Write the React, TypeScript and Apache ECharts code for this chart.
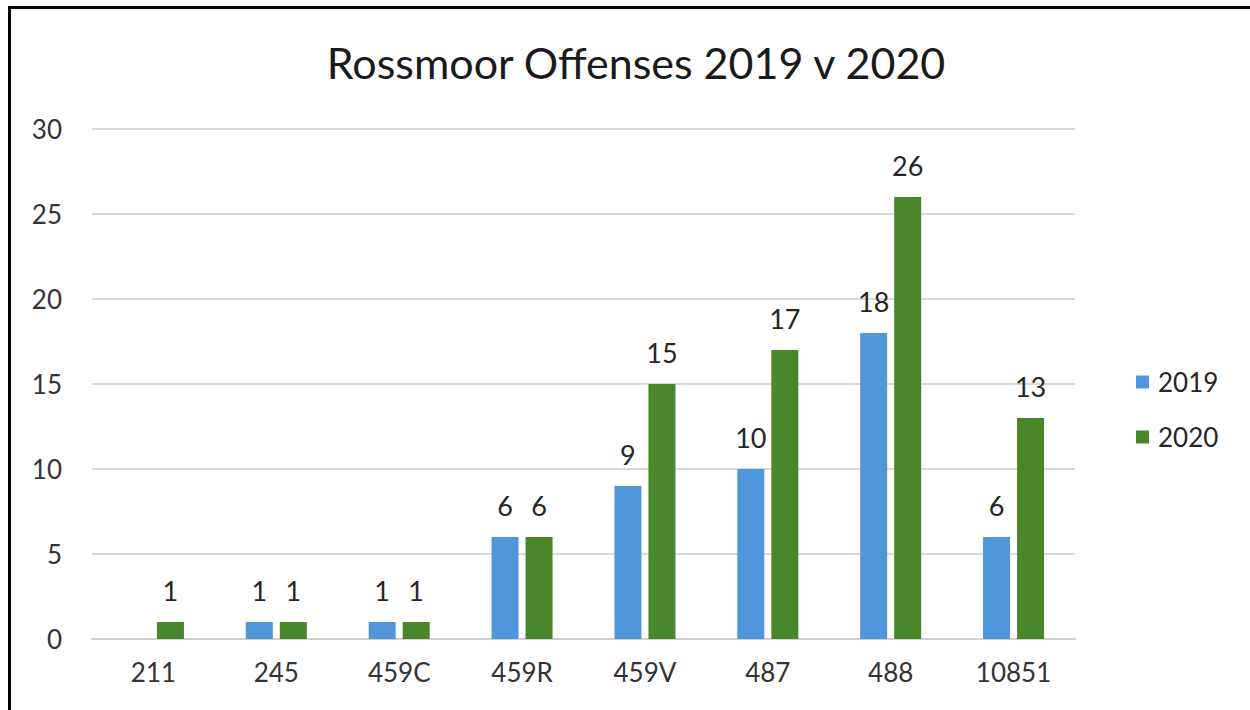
import React, { useEffect, useRef } from "react";
import * as echarts from "echarts";

const categories = ["211", "245", "459C", "459R", "459V", "487", "488", "10851"];
const values2019: (number | null)[] = [null, 1, 1, 6, 9, 10, 18, 6];
const values2020: number[] = [1, 1, 1, 6, 15, 17, 26, 13];
const seriesNames = ["2019", "2020"];
const titleText = "Rossmoor Offenses 2019 v 2020";

const FONT = "Lato, 'Open Sans', sans-serif";

export default function App() {
  const ref = useRef<HTMLDivElement>(null);
  useEffect(() => {
    if (!ref.current) return;
    const chart = echarts.init(ref.current, null, { renderer: "svg" });
    const label = {
      show: true,
      position: "top" as const,
      distance: 18,
      fontSize: 27,
      color: "#262626",
      fontFamily: FONT,
    };
    chart.setOption({
      animation: false,
      backgroundColor: "#ffffff",
      title: {
        text: titleText,
        left: 631,
        top: 36,
        textAlign: "center",
        textStyle: { fontSize: 43, fontWeight: "normal", color: "#1a1a1a", fontFamily: FONT },
      },
      legend: {
        orient: "vertical",
        left: 1131,
        top: 364,
        itemWidth: 13,
        itemHeight: 13,
        itemGap: 29,
        icon: "rect",
        textStyle: { fontSize: 26, color: "#262626", fontFamily: FONT, padding: [0, 0, 0, 4] },
        data: seriesNames,
      },
      grid: { left: 92, right: 175, top: 129, bottom: 71, containLabel: false },
      xAxis: {
        type: "category",
        data: categories,
        axisLine: { lineStyle: { color: "#d0d0d0", width: 2 } },
        axisTick: { show: false },
        axisLabel: { fontSize: 26, color: "#333333", fontFamily: FONT, margin: 20 },
      },
      yAxis: {
        type: "value",
        min: 0,
        max: 30,
        interval: 5,
        axisLine: { show: false },
        axisTick: { show: false },
        splitLine: { lineStyle: { color: "#d9d9d9", width: 2 } },
        axisLabel: { fontSize: 26, color: "#333333", fontFamily: FONT, margin: 30 },
      },
      series: [
        {
          name: seriesNames[0],
          type: "bar",
          data: values2019,
          barWidth: 27,
          barGap: "26%",
          itemStyle: { color: "#4f96da" },
          label,
        },
        {
          name: seriesNames[1],
          type: "bar",
          data: values2020,
          barWidth: 27,
          barGap: "26%",
          itemStyle: { color: "#4a862a" },
          label,
        },
      ],
    });
    return () => chart.dispose();
  }, []);
  return (
    <div style={{ position: "fixed", left: 0, top: 0, width: 1250, height: 710, background: "#fff" }}>
      <div ref={ref} style={{ position: "absolute", left: 0, top: 0, width: 1250, height: 710 }} />
      <div
        style={{
          position: "absolute",
          left: 8,
          top: 6,
          width: 1250,
          height: 720,
          borderTop: "3px solid #000",
          borderLeft: "3px solid #000",
          pointerEvents: "none",
        }}
      />
    </div>
  );
}
